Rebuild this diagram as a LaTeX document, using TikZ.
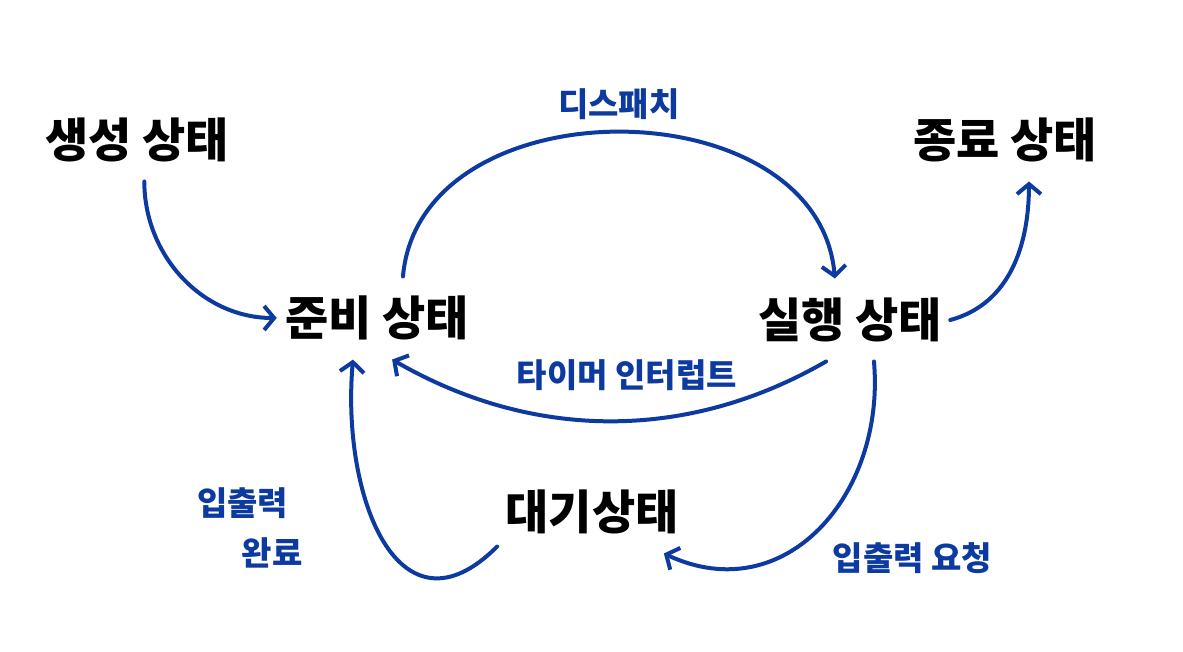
\documentclass[tikz,border=0pt]{standalone}
\usepackage{fontspec}
\usepackage{tikz}
\usetikzlibrary{arrows.meta}
\newfontfamily\kr{Noto Sans CJK KR}
\definecolor{pen}{RGB}{12,58,160}

\begin{document}
\begin{tikzpicture}[x=0.5pt, y=-0.5pt,
    state/.style={inner xsep=4pt, inner ysep=9.5pt, font=\kr\bfseries\fontsize{23.5}{27}\selectfont},
    lbl/.style={text=pen, font=\kr\bfseries\fontsize{16.5}{25}\selectfont, inner sep=2pt},
    arr/.style={draw=pen, line width=2pt, line cap=round, line join=round, -{Straight Barb[length=5pt,width=12pt]}}]
    \useasboundingbox (0,0) rectangle (1183,652);

    \node[state] (new) at (137,140) {생성 상태};
    \node[state] (ready) at (377,318) {준비 상태};
    \node[state] (run) at (850,320) {실행 상태};
    \node[state] (done) at (1005,140) {종료 상태};
    \node[state] (wait) at (592,512) {대기상태};

    \draw[arr] (new.-80) to[out=-90, in=180] (ready.west);
    \draw[arr] (ready.58) to[out=85, in=95, looseness=1.15] node[lbl, above=3pt] (dispatch) {디스패치} (run.110);
    \draw[arr] (run.east) to[out=15, in=-90] (done.-60);
    \draw[arr] (run.-120) to[out=-150, in=-30, looseness=0.95] node[lbl, pos=0.46, above=12pt] (timer) {타이머 인터럽트} (ready.-70);
    \draw[arr] (run.-60) to[out=-85, in=-25, looseness=1.2] node[lbl, pos=0.5, below right=4pt] (iorequest) {입출력 요청} (wait.-30);
    \draw[arr] (wait.-160) to[out=-135, in=-95, looseness=1.5] node[lbl, pos=0.55, left=34pt, align=center] (iodone) {입출력\\\hspace{1.8em}완료} (ready.-120);
\end{tikzpicture}
\end{document}
